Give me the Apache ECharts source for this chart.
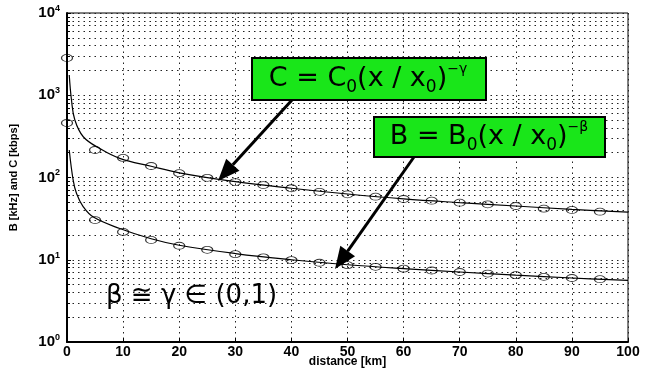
<!DOCTYPE html>
<html>
<head>
<meta charset="utf-8">
<script src="https://cdn.jsdelivr.net/npm/echarts@6/dist/echarts.min.js"></script>
<style>
  html, body { margin: 0; padding: 0; background: #fff; }
  #chart { width: 646px; height: 370px; }
</style>
</head>
<body>
<div id="chart"></div>
<script>
// measured points (circles), every 5 km
var pointX = [0, 5, 10, 15, 20, 25, 30, 35, 40, 45, 50, 55, 60, 65, 70, 75, 80, 85, 90, 95];
var cPoints = [2840, 216, 173, 138, 113, 99, 88, 81, 74, 67, 62.5, 58.4, 54.8, 52.2, 49.4, 47.2, 45, 41.8, 40.3, 38.4];
var bPoints = [460, 30.4, 21.8, 17.4, 14.8, 13.2, 11.7, 10.7, 9.9, 9.2, 8.6, 8.2, 7.8, 7.4, 7.1, 6.8, 6.5, 6.2, 6.0, 5.8];

// fitted curves
var cCurveX = [0.4, 0.8, 1.4, 2.9, 5.9, 9.4, 15, 20, 30, 40, 50, 60, 70, 80, 90, 100];
var cCurveY = [1760, 875, 500, 313, 224, 171, 137, 114, 89, 74, 63, 55, 49.5, 45, 41, 38];
var bCurveX = [0.4, 1.1, 1.7, 2.9, 4.7, 9.4, 15, 20, 30, 40, 50, 60, 70, 80, 90, 100];
var bCurveY = [216, 93, 64, 44, 33, 24, 18, 15, 11.9, 10, 8.7, 7.8, 7.1, 6.5, 6.0, 5.6];

var xTicks = [0, 10, 20, 30, 40, 50, 60, 70, 80, 90, 100];

function pairs(xs, ys) {
  return xs.map(function (x, i) { return [x, ys[i]]; });
}

var myChart = echarts.init(document.getElementById('chart'));

var dotted = { color: '#222', width: 1, type: [1.5, 4] };
var heavy = 'Liberation Sans';

// arrow: shaft + head
function arrow(x1, y1, x2, y2) {
  var dx = x2 - x1, dy = y2 - y1;
  var len = Math.sqrt(dx * dx + dy * dy);
  var ux = dx / len, uy = dy / len;
  var hl = 22, hw = 9;
  var bx = x2 - ux * hl, by = y2 - uy * hl;
  return [
    { type: 'line', shape: { x1: x1, y1: y1, x2: bx, y2: by }, style: { stroke: '#000', lineWidth: 3 }, z: 100 },
    { type: 'polygon', shape: { points: [[x2, y2], [bx - uy * hw, by + ux * hw], [bx + uy * hw, by - ux * hw]] }, style: { fill: '#000' }, z: 100 }
  ];
}

var eqRich = {
  m: { fontFamily: 'DejaVu Sans', fontSize: 27, lineHeight: 34, color: '#000' },
  sub: { fontFamily: 'DejaVu Sans', fontSize: 17, lineHeight: 17, verticalAlign: 'bottom', color: '#000' },
  sup: { fontFamily: 'DejaVu Sans', fontSize: 14, lineHeight: 14, verticalAlign: 'top', color: '#000' }
};

var graphics = [
  { type: 'rect', shape: { x: 252, y: 58, width: 234, height: 42 }, style: { fill: '#19e619', stroke: '#000', lineWidth: 2 }, z: 100 },
  { type: 'text', x: 368, y: 79, z: 101,
    style: { text: '{m|C = C}{sub|0}{m|(x / x}{sub|0}{m|)}{sup|−γ}', rich: eqRich, align: 'center', verticalAlign: 'middle' } },
  { type: 'rect', shape: { x: 374, y: 117, width: 231, height: 40 }, style: { fill: '#19e619', stroke: '#000', lineWidth: 2 }, z: 100 },
  { type: 'text', x: 489, y: 137, z: 101,
    style: { text: '{m|B = B}{sub|0}{m|(x / x}{sub|0}{m|)}{sup|−β}', rich: eqRich, align: 'center', verticalAlign: 'middle' } },
  { type: 'text', x: 106, y: 296, z: 101,
    style: { text: 'β ≅ γ ∈ (0,1)', fontFamily: 'DejaVu Sans', fontSize: 26, fill: '#000', verticalAlign: 'middle' } }
].concat(arrow(292, 100, 218, 181)).concat(arrow(414, 157, 335, 269));

var option = {
  animation: false,
  grid: { left: 67, right: 18, top: 13, bottom: 28, containLabel: false, outerBoundsMode: 'none',
    show: true, borderColor: '#000', borderWidth: 1 },
  xAxis: {
    type: 'value', min: 0, max: 100, interval: 10,
    name: 'distance [km]', nameLocation: 'middle', nameGap: 14, nameMoveOverlap: false,
    nameTextStyle: { fontFamily: heavy, fontWeight: 900, fontSize: 12, color: '#000' },
    axisLine: { lineStyle: { color: '#000', width: 2 } },
    axisTick: { inside: true, length: 4, lineStyle: { color: '#000' } },
    axisLabel: { fontFamily: heavy, fontWeight: 900, fontSize: 14, color: '#000', margin: 3,
      formatter: function (v) { return xTicks.indexOf(v) >= 0 ? String(v) : ''; } },
    splitLine: { show: true, lineStyle: dotted }
  },
  yAxis: {
    type: 'log', logBase: 10, min: 1, max: 10000,
    name: 'B [kHz] and C [kbps]', nameLocation: 'middle', nameGap: 48, nameRotate: 90, nameMoveOverlap: false,
    nameTextStyle: { fontFamily: heavy, fontWeight: 'bold', fontSize: 11, color: '#000' },
    axisLine: { lineStyle: { color: '#000', width: 2 } },
    axisTick: { inside: true, length: 4, lineStyle: { color: '#000' } },
    minorTick: { show: true, splitNumber: 9, length: 3, lineStyle: { color: '#000' } },
    axisLabel: {
      margin: 7,
      formatter: function (v) { return '{b|10}{s|' + Math.round(Math.log10(v)) + '}'; },
      rich: {
        b: { fontFamily: heavy, fontWeight: 900, fontSize: 15, color: '#000', lineHeight: 18 },
        s: { fontFamily: heavy, fontWeight: 900, fontSize: 9, color: '#000', lineHeight: 9, verticalAlign: 'top' }
      }
    },
    splitLine: { show: true, lineStyle: dotted },
    minorSplitLine: { show: true, lineStyle: dotted }
  },
  series: [
    { type: 'line', data: pairs(cCurveX, cCurveY), showSymbol: false, smooth: 0.4,
      lineStyle: { color: '#000', width: 1.2 }, z: 3 },
    { type: 'line', data: pairs(bCurveX, bCurveY), showSymbol: false, smooth: 0.4,
      lineStyle: { color: '#000', width: 1.2 }, z: 3 },
    { type: 'scatter', data: pairs(pointX, cPoints), symbol: 'circle', symbolSize: [11, 7],
      itemStyle: { color: 'rgba(255,255,255,0)', borderColor: '#000', borderWidth: 1 }, z: 4 },
    { type: 'scatter', data: pairs(pointX, bPoints), symbol: 'circle', symbolSize: [11, 7],
      itemStyle: { color: 'rgba(255,255,255,0)', borderColor: '#000', borderWidth: 1 }, z: 4 }
  ],
  graphic: graphics
};

myChart.setOption(option);
</script>
</body>
</html>
